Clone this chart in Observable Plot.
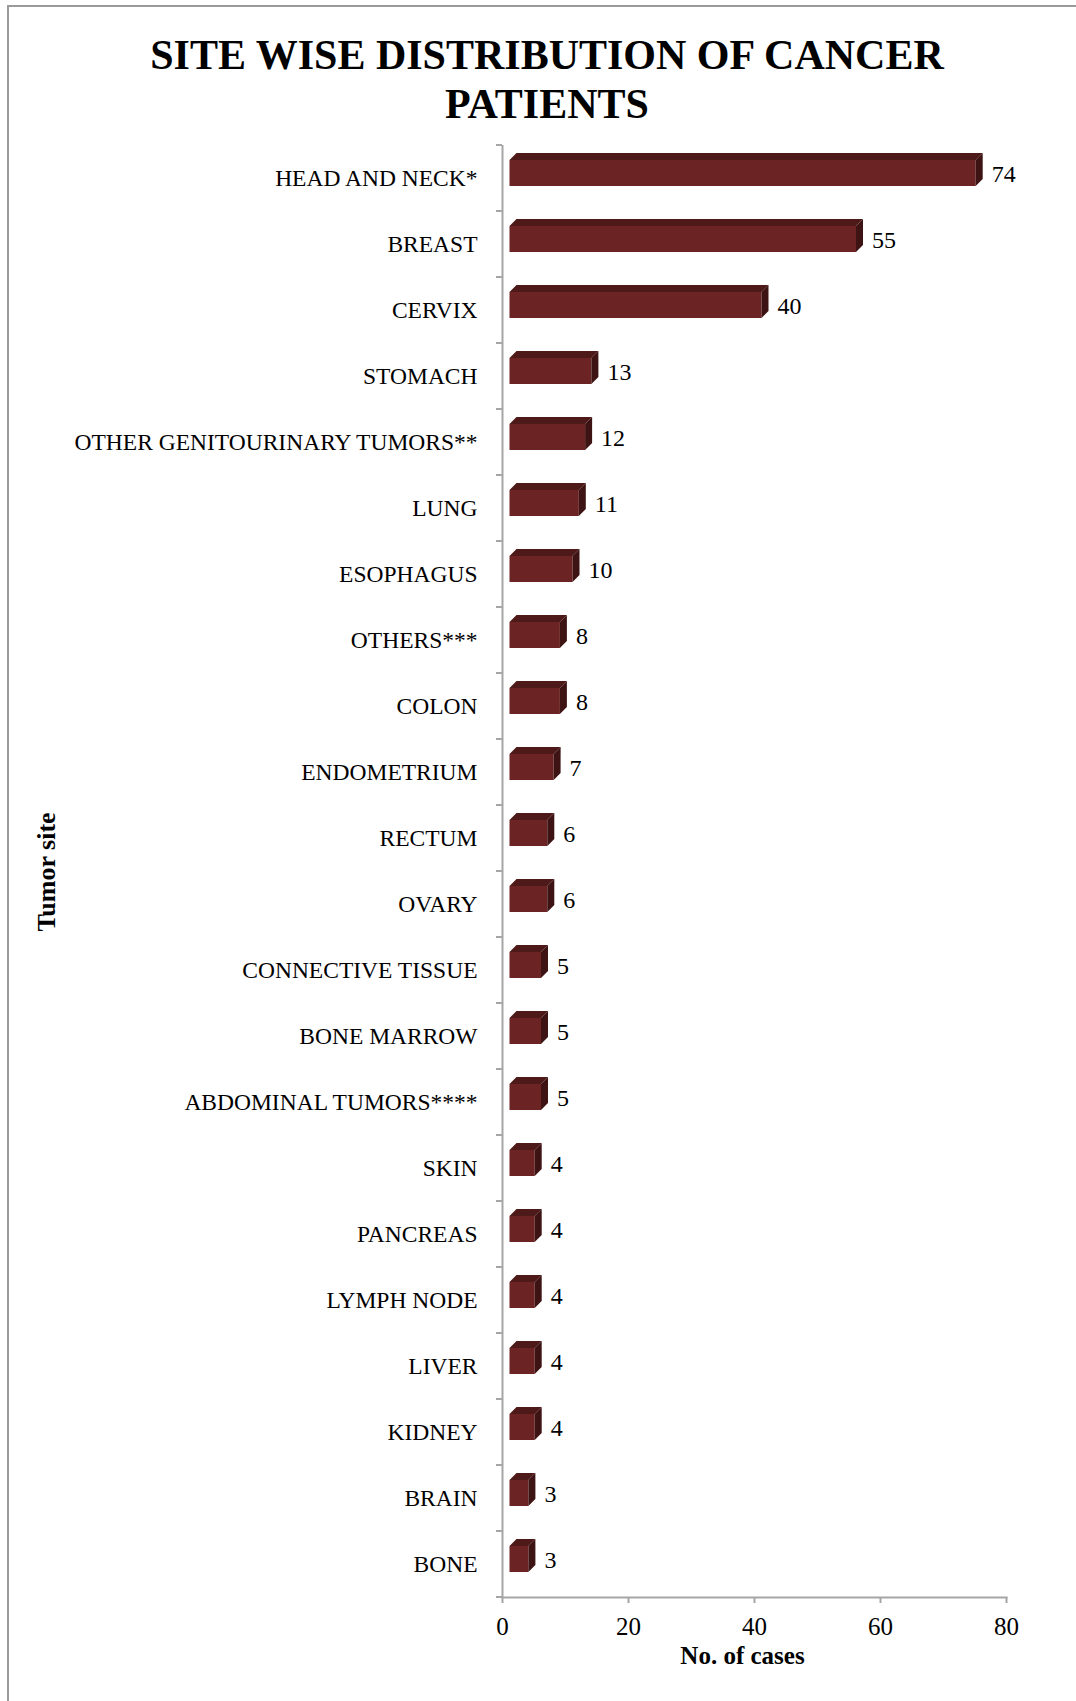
<!DOCTYPE html>
<html>
<head>
<meta charset="utf-8">
<script src="https://cdn.jsdelivr.net/npm/d3@7"></script>
<script src="https://cdn.jsdelivr.net/npm/@observablehq/plot@0.6"></script>
<style>
  html, body { margin: 0; padding: 0; background: #fff; }
  #page { position: relative; width: 1076px; height: 1701px; overflow: hidden; font-family: "Liberation Serif", "Times New Roman", serif; color: #000; }
  #frame { position: absolute; left: 7px; top: 5px; width: 1200px; height: 1800px; border-top: 2px solid #9a9a9a; border-left: 2px solid #9a9a9a; }
  #title { position: absolute; left: 0; top: 31px; width: 1094px; text-align: center; font-weight: bold; font-size: 42px; line-height: 49px; }
  #chart { position: absolute; left: 0; top: 130px; }
  #ylabel { position: absolute; left: 47px; top: 872px; transform: translate(-50%, -50%) rotate(-90deg); font-weight: bold; font-size: 26px; white-space: nowrap; line-height: 1; }
</style>
</head>
<body>
<div id="page">
  <div id="frame"></div>
  <div id="title">SITE WISE DISTRIBUTION OF CANCER<br>PATIENTS</div>
  <div id="chart"></div>
  <div id="ylabel"></div>
</div>
<script>
const sites = ["HEAD AND NECK*","BREAST","CERVIX","STOMACH","OTHER GENITOURINARY TUMORS**","LUNG","ESOPHAGUS","OTHERS***","COLON","ENDOMETRIUM","RECTUM","OVARY","CONNECTIVE TISSUE","BONE MARROW","ABDOMINAL TUMORS****","SKIN","PANCREAS","LYMPH NODE","LIVER","KIDNEY","BRAIN","BONE"];
const cases = [74,55,40,13,12,11,10,8,8,7,6,6,5,5,5,4,4,4,4,4,3,3];
const xTicks = [0,20,40,60,80];
const xLabel = "No. of cases";
const yLabel = "Tumor site";

document.getElementById("ylabel").textContent = yLabel;

const data = sites.map((s, i) => ({site: s, value: cases[i]}));
const axisGray = "#a6a6a6";
const front = "#6b2323", topFace = "#4e1919", sideFace = "#3e1313";

const chart = Plot.plot({
  width: 1076,
  height: 1571,
  marginTop: 15,
  marginBottom: 104,
  marginLeft: 502,
  marginRight: 70,
  style: {fontFamily: "'Liberation Serif', 'Times New Roman', serif", color: "#000", background: "transparent"},
  x: {domain: [0, 80]},
  y: {domain: sites, padding: 0},
  marks: [
    Plot.rectX(data, {x: "value", y: "site", insetTop: 15, insetBottom: 25, dx: 7.5, fill: front}),
    Plot.text(data, {x: "value", y: "site", text: d => String(d.value), textAnchor: "start", dx: 23, dy: -4, fontSize: 24}),
    Plot.ruleX([0], {stroke: axisGray, strokeWidth: 2}),
    Plot.frame({anchor: "bottom", stroke: axisGray, strokeWidth: 2}),
    Plot.axisY({tickSize: 0, tickPadding: 25, fontSize: 23.5, label: null}),
    Plot.axisX({ticks: xTicks, tickSize: 6, tickPadding: 14, fontSize: 25, stroke: axisGray, strokeWidth: 2, label: null}),
    Plot.text([xLabel], {frameAnchor: "bottom", dx: -12, dy: 58, fontSize: 25, fontWeight: "bold", lineAnchor: "middle"})
  ]
});
document.getElementById("chart").appendChild(chart);

// 3D faces and band-boundary ticks, positioned through Plot's own scales
const xs = chart.scale("x"), ys = chart.scale("y");
const bw = ys.bandwidth;
const svg = d3.select(chart);
const g = svg.append("g");
const depth = 7, off = 7.5;
data.forEach(d => {
  const y0 = ys.apply(d.site);
  const top = y0 + 15, bottom = y0 + bw - 25;
  const xl = xs.apply(0) + off, xr = xs.apply(d.value) + off;
  g.append("polygon")
    .attr("points", [[xl, top], [xr, top], [xr + depth, top - depth], [xl + depth, top - depth]].map(p => p.join(",")).join(" "))
    .attr("fill", topFace);
  g.append("polygon")
    .attr("points", [[xr, top], [xr + depth, top - depth], [xr + depth, bottom - depth], [xr, bottom]].map(p => p.join(",")).join(" "))
    .attr("fill", sideFace);
});
const x0 = xs.apply(0);
const bounds = sites.map(s => ys.apply(s)).concat([ys.apply(sites[sites.length - 1]) + bw]);
bounds.forEach(y => {
  g.append("line").attr("x1", x0 - 6).attr("x2", x0).attr("y1", y).attr("y2", y)
    .attr("stroke", axisGray).attr("stroke-width", 2);
});
</script>
</body>
</html>
